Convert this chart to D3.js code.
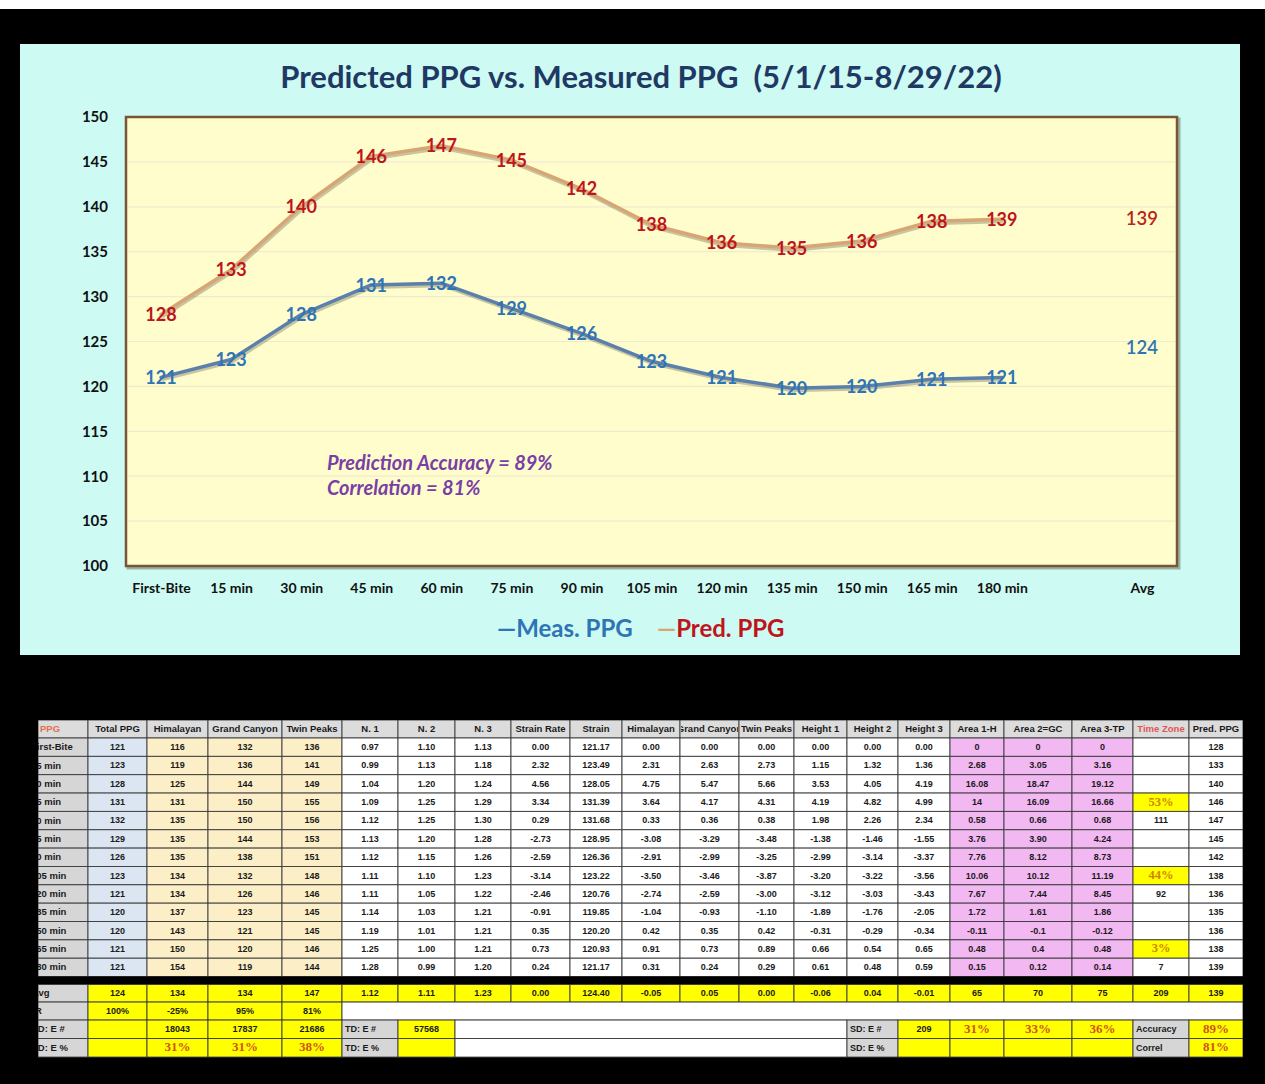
<!DOCTYPE html>
<html><head><meta charset="utf-8">
<script src="https://cdn.jsdelivr.net/npm/d3@7"></script>
<style>
html,body{margin:0;padding:0;background:#fff;}
svg{display:block;}
text{white-space:pre;}
</style></head>
<body>
<svg id="chart" width="1265" height="1084"></svg>
<script>
// ---------------- chart data ----------------
const categories = ["First-Bite","15 min","30 min","45 min","60 min","75 min","90 min","105 min","120 min","135 min","150 min","165 min","180 min"];
const measPPG = [121,123,128,131.3,131.5,128.7,125.9,122.8,121,119.8,120,120.8,121];
const predPPG = [128,133,140,145.6,146.8,145.2,142,138,136,135.4,136.2,138.4,138.6];
const avgMeas = 124;
const avgPred = 139;
const yTicks = [100,105,110,115,120,125,130,135,140,145,150];
const titleText = "Predicted PPG vs. Measured PPG  (5/1/15-8/29/22)";
const noteLines = ["Prediction Accuracy = 89%","Correlation = 81%"];
const legendItems = ["Meas. PPG","Pred. PPG"];

// ---------------- table data ----------------
const tableHeaders = ["PPG","Total PPG","Himalayan","Grand Canyon","Twin Peaks","N. 1","N. 2","N. 3","Strain Rate","Strain","Himalayan","Grand Canyon","Twin Peaks","Height 1","Height 2","Height 3","Area 1-H","Area 2=GC","Area 3-TP","Time Zone","Pred. PPG"];
const rowLabels = categories;
const colTotal = [121,123,128,131,132,129,126,123,121,120,120,121,121];
const colHim = [116,119,125,131,135,135,135,134,134,137,143,150,154];
const colGC = [132,136,144,150,150,144,138,132,126,123,121,120,119];
const colTP = [136,141,149,155,156,153,151,148,146,145,145,146,144];
const colN1 = ["0.97","0.99","1.04","1.09","1.12","1.13","1.12","1.11","1.11","1.14","1.19","1.25","1.28"];
const colN2 = ["1.10","1.13","1.20","1.25","1.25","1.20","1.15","1.10","1.05","1.03","1.01","1.00","0.99"];
const colN3 = ["1.13","1.18","1.24","1.29","1.30","1.28","1.26","1.23","1.22","1.21","1.21","1.21","1.20"];
const colStrainRate = ["0.00","2.32","4.56","3.34","0.29","-2.73","-2.59","-3.14","-2.46","-0.91","0.35","0.73","0.24"];
const colStrain = ["121.17","123.49","128.05","131.39","131.68","128.95","126.36","123.22","120.76","119.85","120.20","120.93","121.17"];
const colHimRate = ["0.00","2.31","4.75","3.64","0.33","-3.08","-2.91","-3.50","-2.74","-1.04","0.42","0.91","0.31"];
const colGCRate = ["0.00","2.63","5.47","4.17","0.36","-3.29","-2.99","-3.46","-2.59","-0.93","0.35","0.73","0.24"];
const colTPRate = ["0.00","2.73","5.66","4.31","0.38","-3.48","-3.25","-3.87","-3.00","-1.10","0.42","0.89","0.29"];
const colH1 = ["0.00","1.15","3.53","4.19","1.98","-1.38","-2.99","-3.20","-3.12","-1.89","-0.31","0.66","0.61"];
const colH2 = ["0.00","1.32","4.05","4.82","2.26","-1.46","-3.14","-3.22","-3.03","-1.76","-0.29","0.54","0.48"];
const colH3 = ["0.00","1.36","4.19","4.99","2.34","-1.55","-3.37","-3.56","-3.43","-2.05","-0.34","0.65","0.59"];
const colArea1 = ["0","2.68","16.08","14","0.58","3.76","7.76","10.06","7.67","1.72","-0.11","0.48","0.15"];
const colArea2 = ["0","3.05","18.47","16.09","0.66","3.90","8.12","10.12","7.44","1.61","-0.1","0.4","0.12"];
const colArea3 = ["0","3.16","19.12","16.66","0.68","4.24","8.73","11.19","8.45","1.86","-0.12","0.48","0.14"];
const colTimeZone = ["","","","53%","111","","","44%","92","","","3%","7"];
const colPred = [128,133,140,146,147,145,142,138,136,135,136,138,139];
const avgRow = ["Avg","124","134","134","147","1.12","1.11","1.23","0.00","124.40","-0.05","0.05","0.00","-0.06","0.04","-0.01","65","70","75","209","139"];
const rRow = ["R","100%","-25%","95%","81%"];
const tdNumRow = ["TD: E #","","18043","17837","21686","TD: E #","57568"];
const tdPctRow = ["TD: E %","","31%","31%","38%","TD: E %",""];
const sdNumRow = ["SD: E #","209","31%","33%","36%","Accuracy","89%"];
const sdPctRow = ["SD: E %","","","","","Correl","81%"];

// ---------------- drawing ----------------
const svg = d3.select("#chart");
const FONT = "Lato, 'Open Sans', sans-serif";
const defs = svg.append("defs");

svg.append("rect").attr("x",0).attr("y",9).attr("width",1265).attr("height",1075).attr("fill","#000");

// panel
svg.append("rect").attr("x",20).attr("y",44).attr("width",1220).attr("height",611).attr("fill","#cdfaf3");

// title
svg.append("text").attr("x",641).attr("y",80).attr("text-anchor","middle").attr("dominant-baseline","middle")
  .attr("font-family",FONT).attr("font-weight",700).attr("font-size",31).attr("fill","#1f3864").text(titleText);

const plot = {l:126, r:1177, t:117, b:566};
const xDomain = categories.concat([" ","Avg"]);
const x = d3.scalePoint().domain(xDomain).range([plot.l, plot.r]).padding(0.5);
const y = d3.scaleLinear().domain([100,150]).range([plot.b, plot.t]);

// plot background
svg.append("rect").attr("x",plot.l+2).attr("y",plot.t+2).attr("width",plot.r-plot.l).attr("height",plot.b-plot.t)
  .attr("fill","none").attr("stroke","rgba(60,40,20,0.35)").attr("stroke-width",3);
svg.append("rect").attr("x",plot.l).attr("y",plot.t).attr("width",plot.r-plot.l).attr("height",plot.b-plot.t)
  .attr("fill","#fffdcc").attr("stroke","#7a5535").attr("stroke-width",2.5);

// gridlines
svg.append("g").selectAll("line").data(yTicks.filter(d=>d>100 && d<150)).join("line")
  .attr("x1",plot.l+2).attr("x2",plot.r-2).attr("y1",d=>y(d)).attr("y2",d=>y(d))
  .attr("stroke","#f1ead0").attr("stroke-width",1.2);

// axes
const yAxis = svg.append("g").attr("transform",`translate(${plot.l-12},0)`)
  .call(d3.axisLeft(y).tickValues(yTicks).tickSize(0).tickPadding(6));
yAxis.select(".domain").remove();
yAxis.selectAll("text").attr("font-family",FONT).attr("font-weight",700).attr("font-size",15).attr("fill","#111");

const xAxis = svg.append("g").attr("transform",`translate(0,${plot.b+14})`)
  .call(d3.axisBottom(x).tickSize(0).tickFormat(d=>d===" "?"":d));
xAxis.select(".domain").remove();
xAxis.selectAll("text").attr("font-family",FONT).attr("font-weight",700).attr("font-size",14).attr("fill","#111");

// lines
const line = d3.line().x((d,i)=>x(categories[i])).y(d=>y(d));
function drawSeries(vals, color){
  svg.append("path").datum(vals).attr("d",line).attr("fill","none")
    .attr("stroke","rgba(0,0,0,0.22)").attr("stroke-width",4).attr("transform","translate(1,2)")
    .attr("stroke-linejoin","round");
  svg.append("path").datum(vals).attr("d",line).attr("fill","none")
    .attr("stroke",color).attr("stroke-width",3.5).attr("stroke-linejoin","round").attr("stroke-linecap","round");
}
drawSeries(predPPG,"#d8a574");
drawSeries(measPPG,"#5a80ab");

function drawLabels(vals, color){
  svg.append("g").selectAll("text").data(vals).join("text")
    .attr("x",(d,i)=>x(categories[i])).attr("y",d=>y(d)+2)
    .attr("text-anchor","middle").attr("dominant-baseline","middle")
    .attr("font-family",FONT).attr("font-weight",700).attr("font-size",18).attr("fill",color)
    .text(d=>Math.round(d));
}
drawLabels(predPPG,"#c0141c");
drawLabels(measPPG,"#2f74b5");

// average labels
svg.append("text").attr("x",x("Avg")).attr("y",y(avgPred)+5).attr("text-anchor","middle").attr("dominant-baseline","middle")
  .attr("font-family",FONT).attr("font-size",18.5).attr("font-weight",600).attr("fill","#b8261c").text(avgPred);
svg.append("text").attr("x",x("Avg")).attr("y",y(avgMeas)+-1).attr("text-anchor","middle").attr("dominant-baseline","middle")
  .attr("font-family",FONT).attr("font-size",18.5).attr("font-weight",600).attr("fill","#2f74b5").text(avgMeas);

// annotation
svg.append("g").selectAll("text").data(noteLines).join("text")
  .attr("x",327).attr("y",(d,i)=>465+i*25).attr("dominant-baseline","middle")
  .attr("font-family",FONT).attr("font-style","italic").attr("font-weight",700).attr("font-size",20).attr("fill","#7a3fa6")
  .text(d=>d);

// legend
svg.append("text").attr("x",497).attr("y",631).attr("dominant-baseline","middle")
  .attr("font-family",FONT).attr("font-weight",700).attr("font-size",24).attr("fill","#2f74b5")
  .text("\u2014"+legendItems[0]);
const leg2 = svg.append("text").attr("x",657).attr("y",631).attr("dominant-baseline","middle")
  .attr("font-family",FONT).attr("font-weight",700).attr("font-size",24);
leg2.append("tspan").attr("fill","#d8a574").text("\u2014");
leg2.append("tspan").attr("fill","#c0141c").text(legendItems[1]);

// ---------------- table ----------------
const colX = [38,88,147,208,282,342,398,455,511,570,622,680,739,794,847,898,950,1004,1072,1133,1189,1243];
const headY = 720, headH = 18, rowH = 18.35;
const dataTop = headY+headH;
const dataBottom = dataTop + rowH*13;
const sepH = 8;
const footTop = dataBottom + sepH;
const footH = [17.5,18,18.5,18.5];
const tfont = "'Liberation Sans', Arial, sans-serif";

const columns = [rowLabels,colTotal,colHim,colGC,colTP,colN1,colN2,colN3,colStrainRate,colStrain,colHimRate,colGCRate,colTPRate,colH1,colH2,colH3,colArea1,colArea2,colArea3,colTimeZone,colPred];
function colBg(c){
  if(c===0) return "#d6d6d6";
  if(c===1) return "#dbe6f2";
  if(c>=2 && c<=4) return "#fcefc8";
  if(c>=16 && c<=18) return "#f2b8f2";
  return "#ffffff";
}
const tg = svg.append("g");
defs.append("clipPath").attr("id","tclip").append("rect").attr("x",colX[0]).attr("y",headY).attr("width",colX[21]-colX[0]).attr("height",360);
const T = tg.append("g").attr("clip-path","url(#tclip)");

let clipId = 0;
function cell(c0,c1,ry,h,bg,txt,opts={}){
  T.append("rect").attr("x",colX[c0]).attr("y",ry).attr("width",colX[c1]-colX[c0]).attr("height",h)
    .attr("fill",bg).attr("stroke","#3a3a3a").attr("stroke-width",0.9);
  if(txt!==undefined && txt!==""){
    let parent = T;
    if(opts.clip){
      const id = "cc"+(clipId++);
      defs.append("clipPath").attr("id",id).append("rect").attr("x",colX[c0]+1).attr("y",ry).attr("width",colX[c1]-colX[c0]-2).attr("height",h);
      parent = T.append("g").attr("clip-path",`url(#${id})`);
    }
    parent.append("text").attr("x",opts.left!==undefined?opts.left:(colX[c0]+colX[c1])/2).attr("y",ry+h/2+0.5)
      .attr("text-anchor",opts.left!==undefined?"start":"middle").attr("dominant-baseline","middle")
      .attr("font-family",opts.serif?"'Liberation Serif', serif":tfont).attr("font-weight",700)
      .attr("font-size",opts.size||9).attr("fill",opts.color||"#1a1a1a").text(txt);
  }
}
// header
tableHeaders.forEach((h,c)=>{
  const color = c===0 ? "#e07050" : (c===19 ? "#e05555" : "#1a1a1a");
  cell(c,c+1,headY,headH,"#dcdcdc",h,{color:color, left: c===0?40:undefined, size:9.5, clip:true});
});
// data rows
for(let r=0;r<13;r++){
  const ry = dataTop + r*rowH;
  columns.forEach((col,c)=>{
    let bg = colBg(c), color="#1a1a1a", opt={};
    const v = col[r];
    if(c===19 && typeof v==="string" && v.endsWith("%")){ bg="#ffff00"; color="#d08400"; opt.size=12.5; opt.serif=true; }
    if(c===0){ opt.left = 31; opt.size = 9.5; }
    opt.color = color;
    cell(c,c+1,ry,rowH,bg,v,opt);
  });
}
// separator
T.append("rect").attr("x",colX[0]).attr("y",dataBottom).attr("width",colX[21]-colX[0]).attr("height",sepH).attr("fill","#000");
// avg row
let rowY = footTop;
avgRow.forEach((v,c)=>cell(c,c+1,rowY,footH[0], c===0?"#d6d6d6":"#ffff00", v, c===0?{left:32,size:9.5}:{}));
// R row
rowY += footH[0];
rRow.forEach((v,c)=>cell(c,c+1,rowY,footH[1], c===0?"#d6d6d6":"#ffff00", v, c===0?{left:35,size:9.5}:{}));
cell(5,21,rowY,footH[1],"#ffffff","");
rowY += footH[1];
const pct = {serif:true,size:13,color:"#d2521a"};
function footRow(left, right, ry, h){
  left.forEach((v,c)=>{
    const gray = (c===0||c===5);
    const isPct = typeof v==="string" && v.endsWith("%") && !gray;
    cell(c,c+1,ry,h, gray?"#d6d6d6":"#ffff00", v, c===0?{left:32,size:9.5}:(gray?{left:colX[c]+3}:(isPct?pct:{})));
  });
  cell(7,14,ry,h,"#ffffff","");
  right.forEach((v,i)=>{
    const c = 14+i;
    const gray = (i===0||i===5);
    const isPct = typeof v==="string" && v.endsWith("%") && !gray;
    cell(c,c+1,ry,h, gray?"#d6d6d6":"#ffff00", v, gray?{left:colX[c]+3}:(isPct?pct:{}));
  });
}
footRow(tdNumRow, sdNumRow, rowY, footH[2]);
rowY += footH[2];
footRow(tdPctRow, sdPctRow, rowY, footH[3]);
</script>
</body></html>
